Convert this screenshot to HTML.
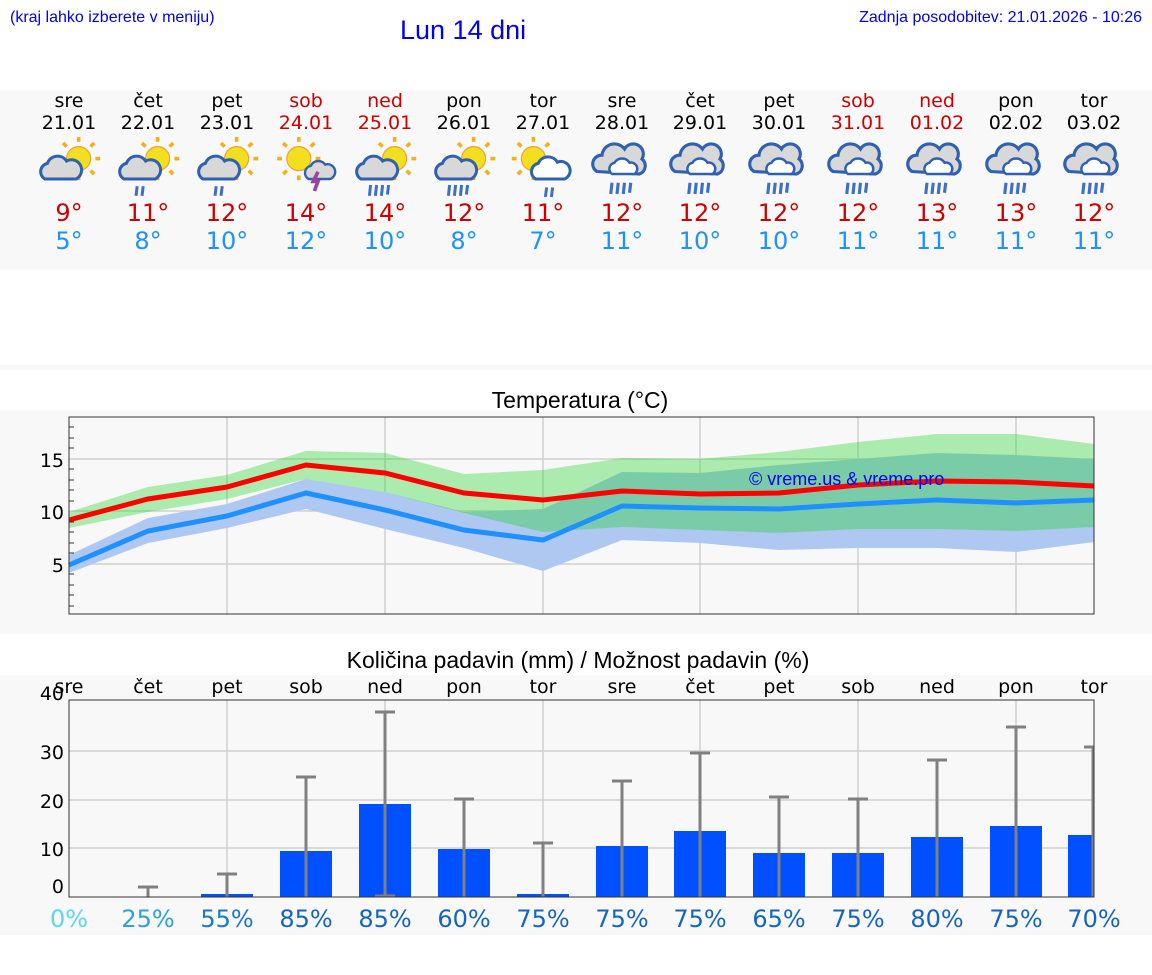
<!DOCTYPE html>
<html><head><meta charset="utf-8"><style>
body{margin:0;background:#fff;}
svg{display:block;font-family:"DejaVu Sans",sans-serif;}
.ls{font-family:"Liberation Sans",sans-serif;}
</style></head><body>
<svg width="1152" height="975" viewBox="0 0 1152 975" xmlns="http://www.w3.org/2000/svg">
<defs>
<g id="sun"><g stroke="#f0b020" stroke-width="3" fill="none">
<line x1="0" y1="-18" x2="0" y2="-14"/><line x1="0" y1="14" x2="0" y2="18"/><line x1="-18" y1="0" x2="-14" y2="0"/><line x1="14" y1="0" x2="18" y2="0"/>
<line x1="-13" y1="-13" x2="-10" y2="-10"/><line x1="10" y1="10" x2="13" y2="13"/><line x1="-13" y1="13" x2="-10" y2="10"/><line x1="10" y1="-10" x2="13" y2="-13"/></g>
<circle r="10" fill="#f2e020" stroke="#f0a030" stroke-width="1"/></g>
<g id="cloud"><path d="M-16,8 a7,7 0 0 1 2,-13 a9,9 0 0 1 16,-2 a7,7 0 0 1 8,15 z" fill="#d8d8d8" stroke="#3060b0" stroke-width="2.5"/></g>
<g id="rain2" stroke="#4070c0" stroke-width="2.5"><line x1="-3" y1="12" x2="-4" y2="20"/><line x1="2" y1="12" x2="1" y2="20"/></g>
<g id="rain4" stroke="#4070c0" stroke-width="2.5"><line x1="-8" y1="12" x2="-9" y2="21"/><line x1="-3" y1="12" x2="-4" y2="21"/><line x1="2" y1="12" x2="1" y2="21"/><line x1="7" y1="12" x2="6" y2="20"/></g>
<g id="sc"><use href="#sun" x="8" y="-7"/><use href="#cloud" x="-4" y="2"/></g>
<g id="big"><path d="M-20,6 a7,7 0 0 1 4,-13 a10,10 0 0 1 18,-5 a8,8 0 0 1 14,8 a7,7 0 0 1 -2,12 z" fill="#d8d8d8" stroke="#3060b0" stroke-width="2.5"/><path d="M-8,8 a5,5 0 0 1 2,-9 a7,7 0 0 1 12,0 a5,5 0 0 1 4,9 z" fill="#fff" stroke="#3060b0" stroke-width="2"/></g>
</defs>
<rect width="1152" height="975" fill="#fff"/>
<text x="10" y="22" class="ls" font-size="16" fill="#0000ee">(kraj lahko izberete v meniju)</text>
<text x="400" y="39" class="ls" font-size="27" fill="#0000ee">Lun 14 dni</text>
<text x="1142" y="22" class="ls" font-size="16" fill="#0000ee" text-anchor="end">Zadnja posodobitev: 21.01.2026 - 10:26</text>
<rect x="0" y="90" width="1152" height="180" fill="#f8f8f8"/>
<rect x="0" y="365" width="1152" height="5" fill="#f8f8f8"/>
<!-- icons -->
<g transform="translate(69,167) scale(1.2)"><use href="#sc"/></g>
<g transform="translate(148,167) scale(1.2)"><use href="#sc"/><use href="#rain2" x="-6" y="4"/></g>
<g transform="translate(227,167) scale(1.2)"><use href="#sc"/><use href="#rain2" x="-6" y="4"/></g>
<g transform="translate(306,167) scale(1.2)"><use href="#sun" x="-6" y="-7"/><path d="M2,10 a6,6 0 0 1 2,-11 a7,7 0 0 1 12,-1 a6,6 0 0 1 4,12 z" fill="#d8d8d8" stroke="#3060b0" stroke-width="2"/><path d="M10,4 l-4,8 h4 l-3,8" stroke="#a040a0" stroke-width="3" fill="none"/></g>
<g transform="translate(385,167) scale(1.2)"><use href="#sc"/><use href="#rain4" x="-4" y="3"/></g>
<g transform="translate(464,167) scale(1.2)"><use href="#sc"/><use href="#rain4" x="-4" y="3"/></g>
<g transform="translate(543,167) scale(1.2)"><use href="#sun" x="-8" y="-7"/><path d="M-6,10 a7,7 0 0 1 2,-13 a9,9 0 0 1 16,-1 a7,7 0 0 1 6,14 z" fill="#fff" stroke="#3060b0" stroke-width="2.5"/><use href="#rain2" x="6" y="5"/></g>
<g transform="translate(622,164) scale(1.25)"><use href="#big"/><use href="#rain4" y="3"/></g>
<g transform="translate(700,164) scale(1.25)"><use href="#big"/><use href="#rain4" y="3"/></g>
<g transform="translate(779,164) scale(1.25)"><use href="#big"/><use href="#rain4" y="3"/></g>
<g transform="translate(858,164) scale(1.25)"><use href="#big"/><use href="#rain4" y="3"/></g>
<g transform="translate(937,164) scale(1.25)"><use href="#big"/><use href="#rain4" y="3"/></g>
<g transform="translate(1016,164) scale(1.25)"><use href="#big"/><use href="#rain4" y="3"/></g>
<g transform="translate(1094,164) scale(1.25)"><use href="#big"/><use href="#rain4" y="3"/></g>
<g font-size="19" text-anchor="middle">
<g fill="#000"><text x="69" y="107">sre</text><text x="148" y="107">čet</text><text x="227" y="107">pet</text><text x="464" y="107">pon</text><text x="543" y="107">tor</text><text x="622" y="107">sre</text><text x="700" y="107">čet</text><text x="779" y="107">pet</text><text x="1016" y="107">pon</text><text x="1094" y="107">tor</text>
<text x="69" y="129">21.01</text><text x="148" y="129">22.01</text><text x="227" y="129">23.01</text><text x="464" y="129">26.01</text><text x="543" y="129">27.01</text><text x="622" y="129">28.01</text><text x="700" y="129">29.01</text><text x="779" y="129">30.01</text><text x="1016" y="129">02.02</text><text x="1094" y="129">03.02</text></g>
<g fill="#cc0000"><text x="306" y="107">sob</text><text x="385" y="107">ned</text><text x="858" y="107">sob</text><text x="937" y="107">ned</text>
<text x="306" y="129">24.01</text><text x="385" y="129">25.01</text><text x="858" y="129">31.01</text><text x="937" y="129">01.02</text></g>
</g>
<g font-size="24" text-anchor="middle">
<g fill="#cc0000"><text x="69" y="221">9°</text><text x="148" y="221">11°</text><text x="227" y="221">12°</text><text x="306" y="221">14°</text><text x="385" y="221">14°</text><text x="464" y="221">12°</text><text x="543" y="221">11°</text><text x="622" y="221">12°</text><text x="700" y="221">12°</text><text x="779" y="221">12°</text><text x="858" y="221">12°</text><text x="937" y="221">13°</text><text x="1016" y="221">13°</text><text x="1094" y="221">12°</text></g>
<g fill="#1e90ff"><text x="69" y="249">5°</text><text x="148" y="249">8°</text><text x="227" y="249">10°</text><text x="306" y="249">12°</text><text x="385" y="249">10°</text><text x="464" y="249">8°</text><text x="543" y="249">7°</text><text x="622" y="249">11°</text><text x="700" y="249">10°</text><text x="779" y="249">10°</text><text x="858" y="249">11°</text><text x="937" y="249">11°</text><text x="1016" y="249">11°</text><text x="1094" y="249">11°</text></g>
</g>

<!-- temperature -->
<rect x="0" y="410" width="1152" height="224" fill="#f8f8f8"/>
<text x="580" y="408" class="ls" font-size="23" text-anchor="middle">Temperatura (°C)</text>
<g stroke="#d0d0d0" stroke-width="1.5">
<line x1="69" y1="459" x2="1094" y2="459"/><line x1="69" y1="511" x2="1094" y2="511"/><line x1="69" y1="564" x2="1094" y2="564"/>
<line x1="227" y1="417" x2="227" y2="614"/><line x1="385" y1="417" x2="385" y2="614"/><line x1="543" y1="417" x2="543" y2="614"/><line x1="700" y1="417" x2="700" y2="614"/><line x1="858" y1="417" x2="858" y2="614"/><line x1="1016" y1="417" x2="1016" y2="614"/></g>
<polygon fill="#aec8f2" points="69,555 148,518 227,504 306,479 385,492 464,512 543,509 622,472 700,473 779,465 858,459 937,453 1016,455 1094,459 1094,542 1016,552 937,548 858,548 779,550 700,543 622,540 543,571 464,548 385,529 306,509 227,528 148,543 69,573"/>
<polygon fill="rgba(24,210,30,0.34)" points="69,512 148,487 227,475 306,451 385,453 464,474 543,470 622,458 700,459 779,452 858,442 937,434 1016,434 1094,444 1094,527 1016,531 937,529 858,529 779,533 700,530 622,527 543,532 464,513 385,492 306,479 227,499 148,512 69,528"/>
<polyline fill="none" stroke="#ff0000" stroke-width="5" points="69,520 148,499 227,487 306,465 385,473 464,493 543,500 622,491 700,494 779,493 858,485 937,481 1016,482 1094,486"/>
<polyline fill="none" stroke="#1e90ff" stroke-width="5" points="69,565 148,531 227,516 306,493 385,510 464,530 543,540 622,506 700,508 779,509 858,504 937,500 1016,503 1094,500"/>
<text x="749" y="485" class="ls" font-size="18" fill="#0000ee">© vreme.us &amp; vreme.pro</text>
<rect x="69" y="417" width="1025" height="197" fill="none" stroke="#333" stroke-width="1"/>
<g stroke="#333" stroke-width="1">
<line x1="69" y1="427" x2="74" y2="427"/><line x1="69" y1="438" x2="74" y2="438"/><line x1="69" y1="448" x2="74" y2="448"/><line x1="69" y1="469" x2="74" y2="469"/><line x1="69" y1="480" x2="74" y2="480"/><line x1="69" y1="490" x2="74" y2="490"/><line x1="69" y1="501" x2="74" y2="501"/><line x1="69" y1="522" x2="74" y2="522"/><line x1="69" y1="532" x2="74" y2="532"/><line x1="69" y1="543" x2="74" y2="543"/><line x1="69" y1="553" x2="74" y2="553"/><line x1="69" y1="574" x2="74" y2="574"/><line x1="69" y1="585" x2="74" y2="585"/><line x1="69" y1="595" x2="74" y2="595"/><line x1="69" y1="606" x2="74" y2="606"/></g>
<g font-size="19" text-anchor="end"><text x="64" y="467">15</text><text x="64" y="519">10</text><text x="64" y="572">5</text></g>

<!-- precipitation -->
<rect x="0" y="675" width="1152" height="260" fill="#f8f8f8"/>
<text x="578" y="668" class="ls" font-size="23" text-anchor="middle">Količina padavin (mm) / Možnost padavin (%)</text>
<g stroke="#d0d0d0" stroke-width="1.5">
<line x1="69" y1="751" x2="1094" y2="751"/><line x1="69" y1="800" x2="1094" y2="800"/><line x1="69" y1="848" x2="1094" y2="848"/>
<line x1="227" y1="700" x2="227" y2="897"/><line x1="385" y1="700" x2="385" y2="897"/><line x1="543" y1="700" x2="543" y2="897"/><line x1="700" y1="700" x2="700" y2="897"/><line x1="858" y1="700" x2="858" y2="897"/><line x1="1016" y1="700" x2="1016" y2="897"/></g>
<g fill="#0050ff">
<rect x="201" y="894" width="52" height="3"/><rect x="280" y="851" width="52" height="46"/><rect x="359" y="804" width="52" height="93"/><rect x="438" y="849" width="52" height="48"/><rect x="517" y="894" width="52" height="3"/><rect x="596" y="846" width="52" height="51"/><rect x="674" y="831" width="52" height="66"/><rect x="753" y="853" width="52" height="44"/><rect x="832" y="853" width="52" height="44"/><rect x="911" y="837" width="52" height="60"/><rect x="990" y="826" width="52" height="71"/><rect x="1068" y="835" width="26" height="62"/></g>
<g stroke="#808080" stroke-width="3">
<path d="M148,887V897M138,887H158"/><path d="M227,874V897M217,874H237"/><path d="M306,777V897M296,777H316"/><path d="M385,712V897M375,712H395M375,896H395"/><path d="M464,799V897M454,799H474"/><path d="M543,843V897M533,843H553"/><path d="M622,781V897M612,781H632"/><path d="M700,753V897M690,753H710"/><path d="M779,797V897M769,797H789"/><path d="M858,799V897M848,799H868"/><path d="M937,760V897M927,760H947"/><path d="M1016,727V897M1006,727H1026"/><path d="M1093,747V897M1084,747H1094"/></g>
<rect x="69" y="700" width="1025" height="197" fill="none" stroke="#333" stroke-width="1"/>
<g font-size="19" text-anchor="end"><text x="64" y="700">40</text><text x="64" y="759">30</text><text x="64" y="808">20</text><text x="64" y="856">10</text><text x="64" y="893">0</text></g>
<g font-size="19" text-anchor="middle" fill="#000"><text x="69" y="693">sre</text><text x="148" y="693">čet</text><text x="227" y="693">pet</text><text x="306" y="693">sob</text><text x="385" y="693">ned</text><text x="464" y="693">pon</text><text x="543" y="693">tor</text><text x="622" y="693">sre</text><text x="700" y="693">čet</text><text x="779" y="693">pet</text><text x="858" y="693">sob</text><text x="937" y="693">ned</text><text x="1016" y="693">pon</text><text x="1094" y="693">tor</text></g>
<g font-size="24" text-anchor="middle" fill="#1565c0"><text x="69" y="927" fill="#5cd8e6">0%</text><text x="148" y="927" fill="#30a0dc">25%</text><text x="227" y="927" fill="#1a78cc">55%</text><text x="306" y="927">85%</text><text x="385" y="927">85%</text><text x="464" y="927">60%</text><text x="543" y="927">75%</text><text x="622" y="927">75%</text><text x="700" y="927">75%</text><text x="779" y="927">65%</text><text x="858" y="927">75%</text><text x="937" y="927">80%</text><text x="1016" y="927">75%</text><text x="1094" y="927">70%</text></g>
</svg>
</body></html>
